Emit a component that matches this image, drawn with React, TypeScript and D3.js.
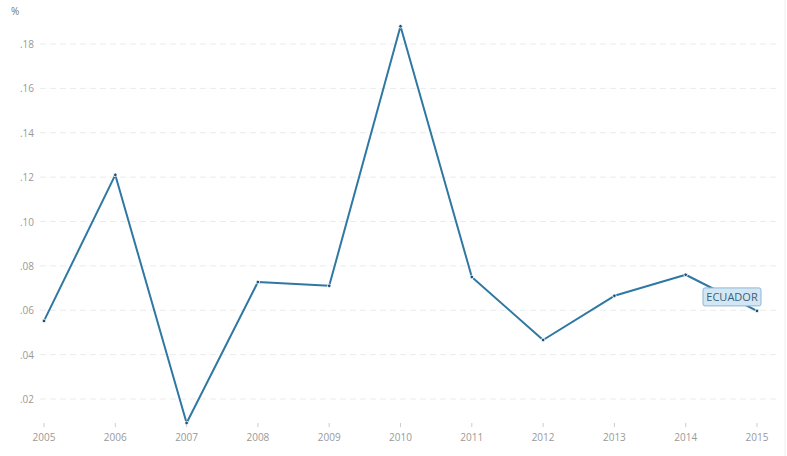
import React from "react";
import * as d3 from "d3";

const years = [2005, 2006, 2007, 2008, 2009, 2010, 2011, 2012, 2013, 2014, 2015];
const values = [0.0552, 0.121, 0.0092, 0.0727, 0.071, 0.188, 0.075, 0.0466, 0.0665, 0.076, 0.0597];
const yTicks = [0.02, 0.04, 0.06, 0.08, 0.1, 0.12, 0.14, 0.16, 0.18];
const seriesName = "ECUADOR";
const unitLabel = "%";

const W = 787;
const H = 456;

export default function App() {
  const x = d3.scaleLinear().domain([2005, 2015]).range([44, 757]);
  const y = d3.scaleLinear().domain([0.02, 0.18]).range([399, 44]);
  const line = d3
    .line<number>()
    .x((_, i) => x(years[i]))
    .y((d) => y(d));
  const fmt = (v: number) => d3.format(".2f")(v).replace(/^0/, "");
  const font = "'Open Sans', sans-serif";
  const last = values.length - 1;
  return (
    <svg
      width={W}
      height={H}
      style={{ position: "absolute", left: 0, top: 0, background: "#fff" }}
      fontFamily={font}
    >
      <text x={11} y={15} fontSize={10} fill="#777">
        {unitLabel}
      </text>
      {yTicks.map((t) => (
        <g key={t}>
          <line
            x1={40}
            x2={777}
            y1={y(t)}
            y2={y(t)}
            stroke="#ebebeb"
            strokeWidth={1}
            strokeDasharray="6,4"
          />
          <text x={34} y={y(t) + 4} fontSize={10} fill="#999" textAnchor="end">
            {fmt(t)}
          </text>
        </g>
      ))}
      {years.map((yr) => (
        <g key={yr}>
          <line x1={x(yr)} x2={x(yr)} y1={423} y2={427} stroke="#ccc" />
          <text x={x(yr)} y={441} fontSize={10} fill="#999" textAnchor="middle">
            {yr}
          </text>
        </g>
      ))}
      <line x1={785} x2={785} y1={0} y2={H} stroke="#eee" />
      <path d={line(values) || ""} fill="none" stroke="#2e78a3" strokeWidth={2} strokeLinejoin="round" />
      {values.map((v, i) => (
        <circle key={i} cx={x(years[i])} cy={y(v)} r={1.8} fill="#1f4e6e" stroke="#fff" strokeWidth={0.8} />
      ))}
      <g>
        <rect
          x={x(years[last]) - 54}
          y={y(values[last]) - 23}
          width={58}
          height={18}
          rx={2}
          fill="#d3e6f4"
          stroke="#8db8d6"
          strokeWidth={1}
        />
        <text
          x={x(years[last]) - 25}
          y={y(values[last]) - 10}
          fontSize={11}
          fill="#3d5f78"
          textAnchor="middle"
        >
          {seriesName}
        </text>
      </g>
    </svg>
  );
}
